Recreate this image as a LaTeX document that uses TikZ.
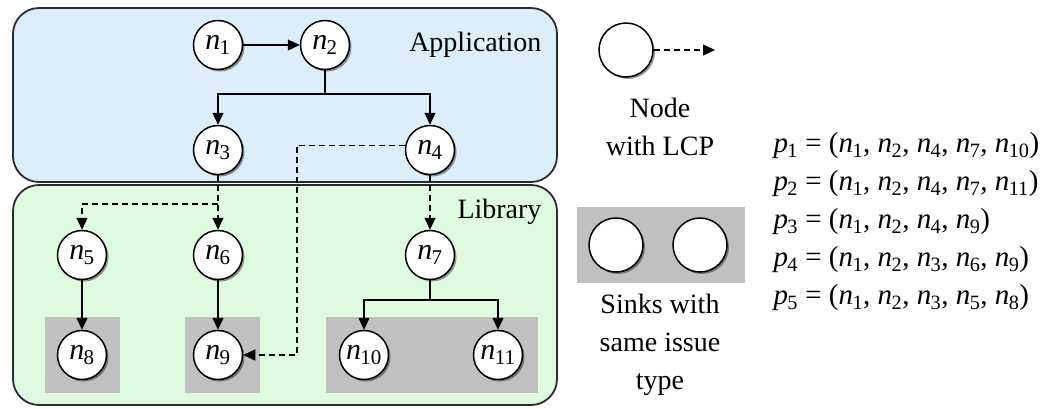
\documentclass[tikz,border=0pt]{standalone}
\usepackage{fontspec}
\setmainfont{Liberation Serif}
\usetikzlibrary{arrows.meta,shadows}

\definecolor{appfill}{RGB}{221,238,251}
\definecolor{libfill}{RGB}{223,251,223}
\definecolor{sinkfill}{RGB}{192,192,192}
\definecolor{framecol}{RGB}{40,44,48}

% vertex and path labels
\newcommand\nv[1]{\textit{n}\kern-0.02em\textsubscript{#1}}
\newcommand\pv[1]{\textit{p}\kern-0.02em\textsubscript{#1}}

\begin{document}
\begin{tikzpicture}[x=1pt,y=-1pt,
  every node/.style={font=\fontsize{28}{38}\selectfont},
  layer/.style={draw=framecol,line width=1.8pt,rounded corners=26pt},
  vtx/.style={circle,draw=black,line width=1.5pt,fill=white,minimum size=49pt,inner sep=0pt,
     font=\fontsize{30}{30}\selectfont,
     drop shadow={shadow xshift=2pt,shadow yshift=-2pt,fill=black,opacity=0.4}},
  conn/.style={line width=1.3pt},
  tip/.style={-{Triangle[length=12pt,width=11pt]}},
  dconn/.style={conn,dash pattern=on 6pt off 4pt},
  sink/.style={fill=sinkfill}]

\useasboundingbox (0,0) rectangle (1053,408);

% layers
\draw[layer,fill=appfill] (13,8) rectangle (557,182);
\draw[layer,fill=libfill] (13,185) rectangle (557,405);
\node[anchor=east] (applbl) at (545,45) {Application};
\node[anchor=east] (liblbl) at (545,212) {Library};

% sink groups
\fill[sink] (45,317) rectangle (120,393);
\fill[sink] (185,317) rectangle (260,393);
\fill[sink] (326,317) rectangle (538,393);

% vertices
\node[vtx] (n1) at (218,45) {\nv1};
\node[vtx] (n2) at (325,45) {\nv2};
\node[vtx] (n3) at (218,150) {\nv3};
\node[vtx] (n4) at (430,150) {\nv4};
\node[vtx] (n5) at (82,255) {\nv5};
\node[vtx] (n6) at (218,255) {\nv6};
\node[vtx] (n7) at (430,255) {\nv7};
\node[vtx] (n8) at (82,355) {\nv8};
\node[vtx] (n9) at (218,355) {\nv9};
\node[vtx] (n10) at (364,355) {\nv{10}};
\node[vtx] (n11) at (498,355) {\nv{11}};

% edges
\draw[conn,tip] (n1) -- (n2);
\coordinate (s2) at (325,94);
\draw[conn] (n2) -- (s2);
\draw[conn,tip] (s2) -| (n3);
\draw[conn,tip] (s2) -| (n4);

\coordinate (s3) at (218,204);
\draw[dconn,tip] (n3) -- (n6);
\draw[dconn,tip] (s3) -| (n5);
\draw[dconn,tip] (n4) -- (n7);
\coordinate (t2) at (297,355);
\draw[dconn,tip] (n4.170) -- (n4.170 -| t2) -- (t2) -- (n9);

\draw[conn,tip] (n5) -- (n8);
\draw[conn,tip] (n6) -- (n9);
\coordinate (s7) at (430,300);
\draw[conn] (n7) -- (s7);
\draw[conn,tip] (s7) -| (n10);
\draw[conn,tip] (s7) -| (n11);

% legend
\node[vtx,minimum size=54pt] (lgnode) at (626,50) {};
\coordinate (lgend) at (715,50);
\draw[dconn,tip] (lgnode) -- (lgend);
\node[align=center] (lgtxt1) at (660,127) {Node\\with LCP};
\fill[sink] (577,207) rectangle (745,283);
\node[vtx,minimum size=54pt] (lgs1) at (616,245) {};
\node[vtx,minimum size=54pt] (lgs2) at (700,245) {};
\node[align=center] (lgtxt2) at (660,345) {Sinks with\\same issue\\type};

% paths
\node[align=left,anchor=west,font=\fontsize{29}{38}\selectfont] (paths) at (770,222) {%
\pv1 = (\nv1, \nv2, \nv4, \nv7, \nv{10})\\
\pv2 = (\nv1, \nv2, \nv4, \nv7, \nv{11})\\
\pv3 = (\nv1, \nv2, \nv4, \nv9)\\
\pv4 = (\nv1, \nv2, \nv3, \nv6, \nv9)\\
\pv5 = (\nv1, \nv2, \nv3, \nv5, \nv8)};
\end{tikzpicture}
\end{document}
